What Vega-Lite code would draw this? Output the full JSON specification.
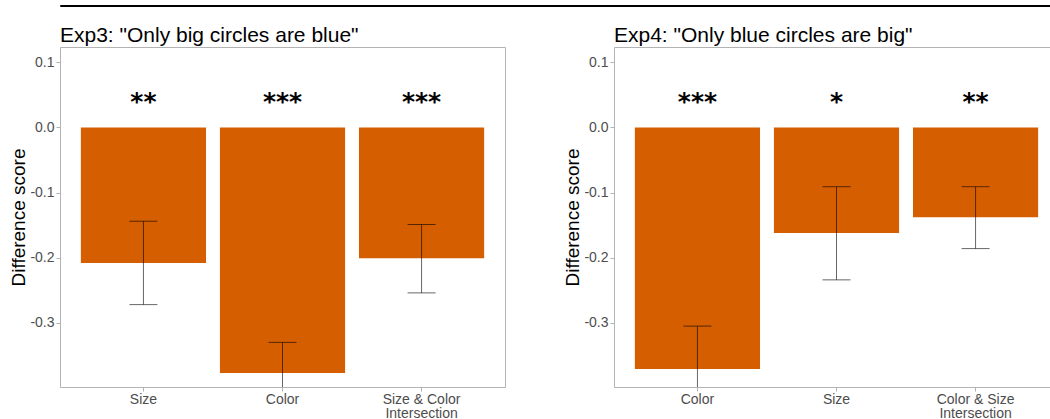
{
  "$schema": "https://vega.github.io/schema/vega-lite/v6.json",
  "padding": {"left": 0, "top": 4, "right": 0, "bottom": 0},
  "background": "white",
  "config": {
    "font": "Liberation Sans",
    "axis": {"labelFont": "Liberation Sans", "titleFont": "Liberation Sans"}
  },
  "datasets": {
    "exp3": [
      {"cond": "Size", "mean": -0.208, "lo": -0.272, "hi": -0.144, "sig": "**"},
      {"cond": "Color", "mean": -0.377, "lo": -0.424, "hi": -0.330, "sig": "***"},
      {"cond": "Size & Color Intersection", "mean": -0.201, "lo": -0.254, "hi": -0.149, "sig": "***"}
    ],
    "exp4": [
      {"cond": "Color", "mean": -0.371, "lo": -0.437, "hi": -0.305, "sig": "***"},
      {"cond": "Size", "mean": -0.162, "lo": -0.234, "hi": -0.091, "sig": "*"},
      {"cond": "Color & Size Intersection", "mean": -0.138, "lo": -0.186, "hi": -0.091, "sig": "**"}
    ]
  },
  "columns": 1,
  "align": "none",
  "spacing": 17,
  "concat": [
    {
      "width": 1050,
      "height": 1,
      "view": {"stroke": "black", "strokeWidth": 1},
      "data": {"values": [{"t": ""}]},
      "mark": {"type": "text", "fontSize": 1},
      "encoding": {"text": {"field": "t"}}
    },
    {
      "align": "none",
      "spacing": 57,
      "hconcat": [
        {
          "width": 445,
          "height": 340,
          "view": {"stroke": "#B3B3B3", "strokeWidth": 1},
          "title": {"text": "Exp3: \"Only big circles are blue\"", "anchor": "start", "frame": "group", "fontSize": 21, "fontWeight": "normal", "color": "black", "offset": 1},
          "data": {"name": "exp3"},
          "encoding": {
            "x": {"field": "cond", "type": "nominal", "sort": null,
              "scale": {"paddingInner": 0.1, "paddingOuter": 0.15},
              "axis": {"title": null, "labelAngle": 0, "labelFontSize": 14, "labelColor": "#4D4D4D", "labelLineHeight": 14, "domain": false, "tickColor": "#B3B3B3", "tickSize": 4, "labelPadding": 1,
                "labelExpr": "indexof(datum.value, ' Intersection') > 0 ? [replace(datum.value, ' Intersection', ''), 'Intersection'] : datum.value"}}
          },
          "layer": [
            {
              "mark": {"type": "bar", "color": "#D55E00", "clip": true},
              "encoding": {
                "y": {"field": "mean", "type": "quantitative",
                  "scale": {"domain": [-0.3985, 0.1235], "nice": false, "zero": false},
                  "axis": {"title": ["", "Difference score"], "titleFontSize": 19, "titleFontWeight": "normal", "titleColor": "black", "titleLineHeight": 9, "titlePadding": 1,
                    "values": [-0.3, -0.2, -0.1, 0, 0.1], "grid": false, "domain": false, "tickColor": "#B3B3B3", "tickSize": 4, "labelPadding": 2, "labelFontSize": 14, "labelColor": "#4D4D4D",
                    "labelExpr": "datum.value < 0 ? '-' + format(-datum.value, '.1f') : format(datum.value, '.1f')"}},
                "y2": {"datum": 0}
              }
            },
            {
              "mark": {"type": "rule", "color": "#444444", "strokeDash": [4, 4], "strokeWidth": 1},
              "encoding": {"y": {"datum": 0}}
            },
            {
              "mark": {"type": "rule", "color": "black", "opacity": 0.6, "strokeWidth": 1, "clip": true},
              "encoding": {"y": {"field": "lo", "type": "quantitative"}, "y2": {"field": "hi"}}
            },
            {
              "mark": {"type": "tick", "color": "black", "opacity": 0.6, "orient": "horizontal", "size": 28, "thickness": 1, "clip": true},
              "encoding": {"y": {"field": "hi", "type": "quantitative"}}
            },
            {
              "mark": {"type": "tick", "color": "black", "opacity": 0.6, "orient": "horizontal", "size": 28, "thickness": 1, "clip": true},
              "encoding": {"y": {"field": "lo", "type": "quantitative"}}
            },
            {
              "mark": {"type": "text", "font": "DejaVu Sans", "fontWeight": "bold", "fontSize": 25, "baseline": "middle", "color": "black", "dy": 7},
              "encoding": {"y": {"datum": 0.05}, "text": {"field": "sig"}}
            }
          ]
        },
        {
          "width": 445,
          "height": 340,
          "view": {"stroke": "#B3B3B3", "strokeWidth": 1},
          "title": {"text": "Exp4: \"Only blue circles are big\"", "anchor": "start", "frame": "group", "fontSize": 21, "fontWeight": "normal", "color": "black", "offset": 1},
          "data": {"name": "exp4"},
          "encoding": {
            "x": {"field": "cond", "type": "nominal", "sort": null,
              "scale": {"paddingInner": 0.1, "paddingOuter": 0.15},
              "axis": {"title": null, "labelAngle": 0, "labelFontSize": 14, "labelColor": "#4D4D4D", "labelLineHeight": 14, "domain": false, "tickColor": "#B3B3B3", "tickSize": 4, "labelPadding": 1,
                "labelExpr": "indexof(datum.value, ' Intersection') > 0 ? [replace(datum.value, ' Intersection', ''), 'Intersection'] : datum.value"}}
          },
          "layer": [
            {
              "mark": {"type": "bar", "color": "#D55E00", "clip": true},
              "encoding": {
                "y": {"field": "mean", "type": "quantitative",
                  "scale": {"domain": [-0.3985, 0.1235], "nice": false, "zero": false},
                  "axis": {"title": "Difference score", "titleFontSize": 19, "titleFontWeight": "normal", "titleColor": "black", "titlePadding": 1,
                    "values": [-0.3, -0.2, -0.1, 0, 0.1], "grid": false, "domain": false, "tickColor": "#B3B3B3", "tickSize": 4, "labelPadding": 2, "labelFontSize": 14, "labelColor": "#4D4D4D",
                    "labelExpr": "datum.value < 0 ? '-' + format(-datum.value, '.1f') : format(datum.value, '.1f')"}},
                "y2": {"datum": 0}
              }
            },
            {
              "mark": {"type": "rule", "color": "#444444", "strokeDash": [4, 4], "strokeWidth": 1},
              "encoding": {"y": {"datum": 0}}
            },
            {
              "mark": {"type": "rule", "color": "black", "opacity": 0.6, "strokeWidth": 1, "clip": true},
              "encoding": {"y": {"field": "lo", "type": "quantitative"}, "y2": {"field": "hi"}}
            },
            {
              "mark": {"type": "tick", "color": "black", "opacity": 0.6, "orient": "horizontal", "size": 28, "thickness": 1, "clip": true},
              "encoding": {"y": {"field": "hi", "type": "quantitative"}}
            },
            {
              "mark": {"type": "tick", "color": "black", "opacity": 0.6, "orient": "horizontal", "size": 28, "thickness": 1, "clip": true},
              "encoding": {"y": {"field": "lo", "type": "quantitative"}}
            },
            {
              "mark": {"type": "text", "font": "DejaVu Sans", "fontWeight": "bold", "fontSize": 25, "baseline": "middle", "color": "black", "dy": 7},
              "encoding": {"y": {"datum": 0.05}, "text": {"field": "sig"}}
            }
          ]
        }
      ]
    }
  ]
}
